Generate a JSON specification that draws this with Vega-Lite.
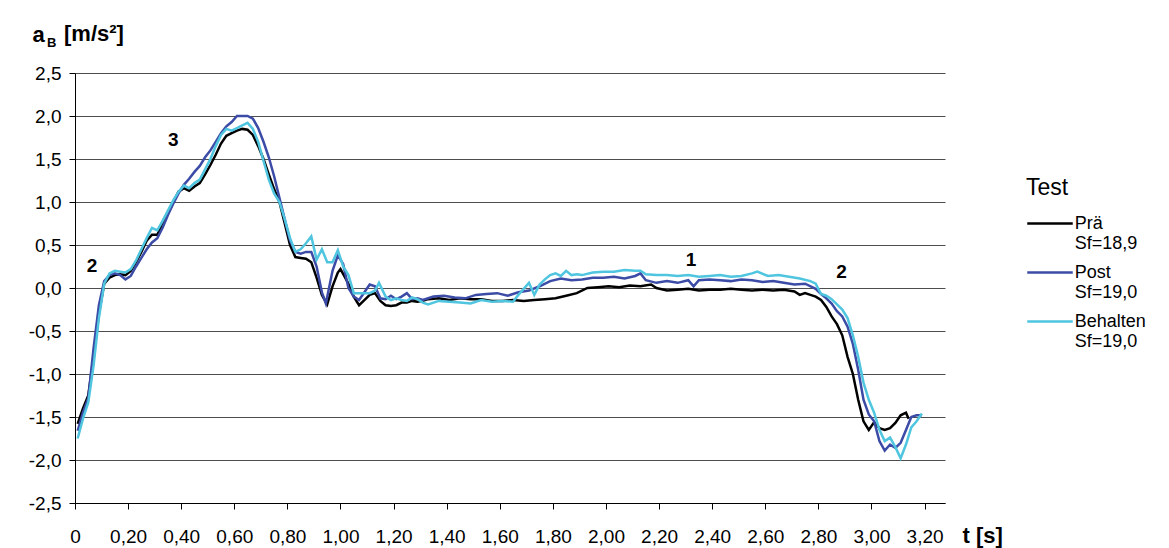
{
  "$schema": "https://vega.github.io/schema/vega-lite/v6.json",
  "width": 870,
  "height": 430,
  "autosize": {"type": "none"},
  "padding": {"left": 75, "top": 73, "right": 224, "bottom": 45},
  "background": "white",
  "config": {"font": "Liberation Sans", "view": {"stroke": null}},
  "datasets": {
    "series": [
      {"test":"Prä","t":0.01,"a":-1.58},{"test":"Prä","t":0.03,"a":-1.40},{"test":"Prä","t":0.05,"a":-1.25},{"test":"Prä","t":0.07,"a":-0.80},{"test":"Prä","t":0.09,"a":-0.30},
      {"test":"Prä","t":0.11,"a":0.05},{"test":"Prä","t":0.13,"a":0.12},{"test":"Prä","t":0.15,"a":0.15},{"test":"Prä","t":0.17,"a":0.16},{"test":"Prä","t":0.19,"a":0.15},
      {"test":"Prä","t":0.21,"a":0.20},{"test":"Prä","t":0.23,"a":0.30},{"test":"Prä","t":0.25,"a":0.42},{"test":"Prä","t":0.27,"a":0.55},{"test":"Prä","t":0.29,"a":0.62},
      {"test":"Prä","t":0.31,"a":0.62},{"test":"Prä","t":0.33,"a":0.75},{"test":"Prä","t":0.35,"a":0.88},{"test":"Prä","t":0.37,"a":1.00},{"test":"Prä","t":0.39,"a":1.12},
      {"test":"Prä","t":0.41,"a":1.16},{"test":"Prä","t":0.43,"a":1.13},{"test":"Prä","t":0.45,"a":1.18},{"test":"Prä","t":0.47,"a":1.22},{"test":"Prä","t":0.49,"a":1.32},
      {"test":"Prä","t":0.51,"a":1.43},{"test":"Prä","t":0.53,"a":1.55},{"test":"Prä","t":0.55,"a":1.68},{"test":"Prä","t":0.57,"a":1.77},{"test":"Prä","t":0.59,"a":1.80},
      {"test":"Prä","t":0.61,"a":1.83},{"test":"Prä","t":0.63,"a":1.85},{"test":"Prä","t":0.65,"a":1.84},{"test":"Prä","t":0.67,"a":1.78},{"test":"Prä","t":0.69,"a":1.65},
      {"test":"Prä","t":0.71,"a":1.50},{"test":"Prä","t":0.73,"a":1.32},{"test":"Prä","t":0.75,"a":1.15},{"test":"Prä","t":0.77,"a":1.00},{"test":"Prä","t":0.79,"a":0.75},
      {"test":"Prä","t":0.81,"a":0.50},{"test":"Prä","t":0.83,"a":0.36},{"test":"Prä","t":0.85,"a":0.35},{"test":"Prä","t":0.87,"a":0.34},{"test":"Prä","t":0.89,"a":0.30},
      {"test":"Prä","t":0.91,"a":0.12},{"test":"Prä","t":0.93,"a":-0.08},{"test":"Prä","t":0.95,"a":-0.19},{"test":"Prä","t":0.97,"a":0.02},{"test":"Prä","t":0.99,"a":0.18},
      {"test":"Prä","t":1.00,"a":0.22},{"test":"Prä","t":1.03,"a":0.05},{"test":"Prä","t":1.05,"a":-0.10},{"test":"Prä","t":1.07,"a":-0.20},{"test":"Prä","t":1.09,"a":-0.14},
      {"test":"Prä","t":1.11,"a":-0.08},{"test":"Prä","t":1.13,"a":-0.06},{"test":"Prä","t":1.15,"a":-0.15},{"test":"Prä","t":1.17,"a":-0.20},{"test":"Prä","t":1.19,"a":-0.21},
      {"test":"Prä","t":1.21,"a":-0.20},{"test":"Prä","t":1.23,"a":-0.17},{"test":"Prä","t":1.25,"a":-0.17},{"test":"Prä","t":1.27,"a":-0.15},{"test":"Prä","t":1.29,"a":-0.16},
      {"test":"Prä","t":1.31,"a":-0.15},{"test":"Prä","t":1.33,"a":-0.13},{"test":"Prä","t":1.37,"a":-0.12},{"test":"Prä","t":1.41,"a":-0.14},{"test":"Prä","t":1.45,"a":-0.12},
      {"test":"Prä","t":1.49,"a":-0.13},{"test":"Prä","t":1.53,"a":-0.13},{"test":"Prä","t":1.57,"a":-0.15},{"test":"Prä","t":1.61,"a":-0.15},{"test":"Prä","t":1.65,"a":-0.14},
      {"test":"Prä","t":1.69,"a":-0.15},{"test":"Prä","t":1.73,"a":-0.14},{"test":"Prä","t":1.77,"a":-0.13},{"test":"Prä","t":1.81,"a":-0.12},{"test":"Prä","t":1.85,"a":-0.09},
      {"test":"Prä","t":1.89,"a":-0.06},{"test":"Prä","t":1.93,"a":0.00},{"test":"Prä","t":1.97,"a":0.01},{"test":"Prä","t":2.01,"a":0.02},{"test":"Prä","t":2.05,"a":0.01},
      {"test":"Prä","t":2.09,"a":0.03},{"test":"Prä","t":2.13,"a":0.02},{"test":"Prä","t":2.17,"a":0.04},{"test":"Prä","t":2.19,"a":0.00},{"test":"Prä","t":2.23,"a":-0.03},
      {"test":"Prä","t":2.27,"a":-0.02},{"test":"Prä","t":2.31,"a":-0.01},{"test":"Prä","t":2.35,"a":-0.03},{"test":"Prä","t":2.39,"a":-0.02},{"test":"Prä","t":2.43,"a":-0.02},
      {"test":"Prä","t":2.47,"a":-0.01},{"test":"Prä","t":2.51,"a":-0.02},{"test":"Prä","t":2.55,"a":-0.03},{"test":"Prä","t":2.59,"a":-0.02},{"test":"Prä","t":2.63,"a":-0.03},
      {"test":"Prä","t":2.67,"a":-0.02},{"test":"Prä","t":2.71,"a":-0.04},{"test":"Prä","t":2.73,"a":-0.08},{"test":"Prä","t":2.75,"a":-0.06},{"test":"Prä","t":2.77,"a":-0.08},
      {"test":"Prä","t":2.79,"a":-0.10},{"test":"Prä","t":2.81,"a":-0.14},{"test":"Prä","t":2.83,"a":-0.22},{"test":"Prä","t":2.85,"a":-0.33},{"test":"Prä","t":2.87,"a":-0.42},
      {"test":"Prä","t":2.89,"a":-0.55},{"test":"Prä","t":2.91,"a":-0.80},{"test":"Prä","t":2.93,"a":-1.00},{"test":"Prä","t":2.95,"a":-1.30},{"test":"Prä","t":2.97,"a":-1.55},
      {"test":"Prä","t":2.99,"a":-1.65},{"test":"Prä","t":3.01,"a":-1.56},{"test":"Prä","t":3.03,"a":-1.63},{"test":"Prä","t":3.05,"a":-1.65},{"test":"Prä","t":3.07,"a":-1.63},
      {"test":"Prä","t":3.09,"a":-1.57},{"test":"Prä","t":3.11,"a":-1.48},{"test":"Prä","t":3.13,"a":-1.45},{"test":"Prä","t":3.14,"a":-1.52},

      {"test":"Post","t":0.01,"a":-1.66},{"test":"Post","t":0.03,"a":-1.45},{"test":"Post","t":0.05,"a":-1.28},{"test":"Post","t":0.07,"a":-0.70},{"test":"Post","t":0.09,"a":-0.20},
      {"test":"Post","t":0.11,"a":0.08},{"test":"Post","t":0.13,"a":0.15},{"test":"Post","t":0.15,"a":0.17},{"test":"Post","t":0.17,"a":0.15},{"test":"Post","t":0.19,"a":0.10},
      {"test":"Post","t":0.21,"a":0.14},{"test":"Post","t":0.23,"a":0.25},{"test":"Post","t":0.25,"a":0.35},{"test":"Post","t":0.27,"a":0.45},{"test":"Post","t":0.29,"a":0.53},
      {"test":"Post","t":0.31,"a":0.58},{"test":"Post","t":0.33,"a":0.70},{"test":"Post","t":0.35,"a":0.85},{"test":"Post","t":0.37,"a":0.98},{"test":"Post","t":0.39,"a":1.10},
      {"test":"Post","t":0.41,"a":1.20},{"test":"Post","t":0.43,"a":1.27},{"test":"Post","t":0.45,"a":1.35},{"test":"Post","t":0.47,"a":1.42},{"test":"Post","t":0.49,"a":1.52},
      {"test":"Post","t":0.51,"a":1.60},{"test":"Post","t":0.53,"a":1.70},{"test":"Post","t":0.55,"a":1.80},{"test":"Post","t":0.57,"a":1.88},{"test":"Post","t":0.59,"a":1.93},
      {"test":"Post","t":0.61,"a":2.00},{"test":"Post","t":0.63,"a":2.00},{"test":"Post","t":0.65,"a":2.00},{"test":"Post","t":0.67,"a":1.97},{"test":"Post","t":0.69,"a":1.86},
      {"test":"Post","t":0.71,"a":1.70},{"test":"Post","t":0.73,"a":1.52},{"test":"Post","t":0.75,"a":1.30},{"test":"Post","t":0.77,"a":1.05},{"test":"Post","t":0.79,"a":0.80},
      {"test":"Post","t":0.81,"a":0.55},{"test":"Post","t":0.83,"a":0.42},{"test":"Post","t":0.85,"a":0.40},{"test":"Post","t":0.87,"a":0.42},{"test":"Post","t":0.89,"a":0.42},
      {"test":"Post","t":0.91,"a":0.25},{"test":"Post","t":0.93,"a":-0.05},{"test":"Post","t":0.945,"a":-0.18},{"test":"Post","t":0.97,"a":0.20},{"test":"Post","t":0.99,"a":0.38},
      {"test":"Post","t":1.01,"a":0.28},{"test":"Post","t":1.03,"a":0.00},{"test":"Post","t":1.05,"a":-0.10},{"test":"Post","t":1.07,"a":-0.14},{"test":"Post","t":1.09,"a":-0.05},
      {"test":"Post","t":1.11,"a":0.04},{"test":"Post","t":1.13,"a":0.02},{"test":"Post","t":1.15,"a":-0.12},{"test":"Post","t":1.17,"a":-0.13},{"test":"Post","t":1.19,"a":-0.09},
      {"test":"Post","t":1.21,"a":-0.13},{"test":"Post","t":1.23,"a":-0.10},{"test":"Post","t":1.25,"a":-0.06},{"test":"Post","t":1.27,"a":-0.13},{"test":"Post","t":1.29,"a":-0.12},
      {"test":"Post","t":1.31,"a":-0.14},{"test":"Post","t":1.35,"a":-0.10},{"test":"Post","t":1.39,"a":-0.09},{"test":"Post","t":1.43,"a":-0.11},{"test":"Post","t":1.47,"a":-0.12},
      {"test":"Post","t":1.51,"a":-0.08},{"test":"Post","t":1.55,"a":-0.07},{"test":"Post","t":1.59,"a":-0.06},{"test":"Post","t":1.63,"a":-0.09},{"test":"Post","t":1.67,"a":-0.05},
      {"test":"Post","t":1.71,"a":-0.03},{"test":"Post","t":1.75,"a":0.02},{"test":"Post","t":1.79,"a":0.08},{"test":"Post","t":1.83,"a":0.11},{"test":"Post","t":1.87,"a":0.09},
      {"test":"Post","t":1.91,"a":0.10},{"test":"Post","t":1.95,"a":0.12},{"test":"Post","t":1.99,"a":0.12},{"test":"Post","t":2.03,"a":0.13},{"test":"Post","t":2.07,"a":0.11},
      {"test":"Post","t":2.11,"a":0.14},{"test":"Post","t":2.13,"a":0.17},{"test":"Post","t":2.15,"a":0.09},{"test":"Post","t":2.19,"a":0.06},{"test":"Post","t":2.23,"a":0.08},
      {"test":"Post","t":2.27,"a":0.06},{"test":"Post","t":2.31,"a":0.09},{"test":"Post","t":2.33,"a":0.02},{"test":"Post","t":2.35,"a":0.09},{"test":"Post","t":2.39,"a":0.10},
      {"test":"Post","t":2.43,"a":0.09},{"test":"Post","t":2.47,"a":0.08},{"test":"Post","t":2.51,"a":0.10},{"test":"Post","t":2.55,"a":0.09},{"test":"Post","t":2.59,"a":0.07},
      {"test":"Post","t":2.63,"a":0.08},{"test":"Post","t":2.67,"a":0.06},{"test":"Post","t":2.71,"a":0.04},{"test":"Post","t":2.75,"a":0.05},{"test":"Post","t":2.79,"a":-0.01},
      {"test":"Post","t":2.81,"a":-0.07},{"test":"Post","t":2.83,"a":-0.12},{"test":"Post","t":2.85,"a":-0.18},{"test":"Post","t":2.87,"a":-0.27},{"test":"Post","t":2.89,"a":-0.33},
      {"test":"Post","t":2.91,"a":-0.45},{"test":"Post","t":2.93,"a":-0.65},{"test":"Post","t":2.95,"a":-0.95},{"test":"Post","t":2.97,"a":-1.30},{"test":"Post","t":2.99,"a":-1.47},
      {"test":"Post","t":3.01,"a":-1.55},{"test":"Post","t":3.03,"a":-1.78},{"test":"Post","t":3.05,"a":-1.89},{"test":"Post","t":3.07,"a":-1.82},{"test":"Post","t":3.09,"a":-1.86},
      {"test":"Post","t":3.11,"a":-1.80},{"test":"Post","t":3.13,"a":-1.65},{"test":"Post","t":3.15,"a":-1.50},{"test":"Post","t":3.17,"a":-1.48},{"test":"Post","t":3.19,"a":-1.48},

      {"test":"Behalten","t":0.01,"a":-1.75},{"test":"Behalten","t":0.03,"a":-1.52},{"test":"Behalten","t":0.05,"a":-1.33},{"test":"Behalten","t":0.07,"a":-0.90},{"test":"Behalten","t":0.09,"a":-0.35},
      {"test":"Behalten","t":0.11,"a":0.05},{"test":"Behalten","t":0.13,"a":0.17},{"test":"Behalten","t":0.15,"a":0.20},{"test":"Behalten","t":0.17,"a":0.19},{"test":"Behalten","t":0.19,"a":0.18},
      {"test":"Behalten","t":0.21,"a":0.22},{"test":"Behalten","t":0.23,"a":0.32},{"test":"Behalten","t":0.25,"a":0.45},{"test":"Behalten","t":0.27,"a":0.58},{"test":"Behalten","t":0.29,"a":0.70},
      {"test":"Behalten","t":0.31,"a":0.67},{"test":"Behalten","t":0.33,"a":0.78},{"test":"Behalten","t":0.35,"a":0.90},{"test":"Behalten","t":0.37,"a":1.02},{"test":"Behalten","t":0.39,"a":1.12},
      {"test":"Behalten","t":0.41,"a":1.19},{"test":"Behalten","t":0.43,"a":1.16},{"test":"Behalten","t":0.45,"a":1.22},{"test":"Behalten","t":0.47,"a":1.26},{"test":"Behalten","t":0.49,"a":1.38},
      {"test":"Behalten","t":0.51,"a":1.50},{"test":"Behalten","t":0.53,"a":1.65},{"test":"Behalten","t":0.55,"a":1.78},{"test":"Behalten","t":0.57,"a":1.85},{"test":"Behalten","t":0.59,"a":1.83},
      {"test":"Behalten","t":0.61,"a":1.86},{"test":"Behalten","t":0.63,"a":1.89},{"test":"Behalten","t":0.65,"a":1.92},{"test":"Behalten","t":0.67,"a":1.85},{"test":"Behalten","t":0.69,"a":1.70},
      {"test":"Behalten","t":0.71,"a":1.48},{"test":"Behalten","t":0.73,"a":1.26},{"test":"Behalten","t":0.75,"a":1.10},{"test":"Behalten","t":0.77,"a":1.00},{"test":"Behalten","t":0.79,"a":0.80},
      {"test":"Behalten","t":0.81,"a":0.58},{"test":"Behalten","t":0.83,"a":0.42},{"test":"Behalten","t":0.85,"a":0.45},{"test":"Behalten","t":0.87,"a":0.52},{"test":"Behalten","t":0.89,"a":0.60},
      {"test":"Behalten","t":0.91,"a":0.33},{"test":"Behalten","t":0.93,"a":0.45},{"test":"Behalten","t":0.95,"a":0.30},{"test":"Behalten","t":0.97,"a":0.30},{"test":"Behalten","t":0.99,"a":0.44},
      {"test":"Behalten","t":1.01,"a":0.25},{"test":"Behalten","t":1.03,"a":0.15},{"test":"Behalten","t":1.05,"a":-0.06},{"test":"Behalten","t":1.07,"a":-0.06},{"test":"Behalten","t":1.09,"a":-0.06},
      {"test":"Behalten","t":1.11,"a":-0.06},{"test":"Behalten","t":1.13,"a":-0.03},{"test":"Behalten","t":1.145,"a":0.06},{"test":"Behalten","t":1.17,"a":-0.10},{"test":"Behalten","t":1.19,"a":-0.14},
      {"test":"Behalten","t":1.21,"a":-0.12},{"test":"Behalten","t":1.23,"a":-0.14},{"test":"Behalten","t":1.25,"a":-0.15},{"test":"Behalten","t":1.27,"a":-0.11},{"test":"Behalten","t":1.29,"a":-0.13},
      {"test":"Behalten","t":1.31,"a":-0.17},{"test":"Behalten","t":1.33,"a":-0.19},{"test":"Behalten","t":1.37,"a":-0.15},{"test":"Behalten","t":1.41,"a":-0.16},{"test":"Behalten","t":1.45,"a":-0.17},
      {"test":"Behalten","t":1.49,"a":-0.18},{"test":"Behalten","t":1.53,"a":-0.14},{"test":"Behalten","t":1.57,"a":-0.16},{"test":"Behalten","t":1.61,"a":-0.15},{"test":"Behalten","t":1.65,"a":-0.16},
      {"test":"Behalten","t":1.67,"a":-0.08},{"test":"Behalten","t":1.71,"a":0.06},{"test":"Behalten","t":1.73,"a":-0.08},{"test":"Behalten","t":1.75,"a":0.04},{"test":"Behalten","t":1.77,"a":0.10},
      {"test":"Behalten","t":1.79,"a":0.15},{"test":"Behalten","t":1.81,"a":0.17},{"test":"Behalten","t":1.83,"a":0.14},{"test":"Behalten","t":1.85,"a":0.20},{"test":"Behalten","t":1.87,"a":0.15},
      {"test":"Behalten","t":1.89,"a":0.16},{"test":"Behalten","t":1.91,"a":0.15},{"test":"Behalten","t":1.95,"a":0.18},{"test":"Behalten","t":1.99,"a":0.19},{"test":"Behalten","t":2.03,"a":0.19},
      {"test":"Behalten","t":2.07,"a":0.21},{"test":"Behalten","t":2.11,"a":0.20},{"test":"Behalten","t":2.13,"a":0.20},{"test":"Behalten","t":2.15,"a":0.16},{"test":"Behalten","t":2.19,"a":0.15},
      {"test":"Behalten","t":2.23,"a":0.15},{"test":"Behalten","t":2.27,"a":0.14},{"test":"Behalten","t":2.31,"a":0.15},{"test":"Behalten","t":2.35,"a":0.13},{"test":"Behalten","t":2.39,"a":0.14},
      {"test":"Behalten","t":2.43,"a":0.15},{"test":"Behalten","t":2.47,"a":0.13},{"test":"Behalten","t":2.51,"a":0.14},{"test":"Behalten","t":2.55,"a":0.17},{"test":"Behalten","t":2.57,"a":0.19},
      {"test":"Behalten","t":2.61,"a":0.14},{"test":"Behalten","t":2.65,"a":0.15},{"test":"Behalten","t":2.69,"a":0.13},{"test":"Behalten","t":2.73,"a":0.11},{"test":"Behalten","t":2.77,"a":0.08},
      {"test":"Behalten","t":2.79,"a":0.05},{"test":"Behalten","t":2.81,"a":-0.07},{"test":"Behalten","t":2.83,"a":-0.09},{"test":"Behalten","t":2.85,"a":-0.13},{"test":"Behalten","t":2.87,"a":-0.19},
      {"test":"Behalten","t":2.89,"a":-0.25},{"test":"Behalten","t":2.91,"a":-0.35},{"test":"Behalten","t":2.93,"a":-0.55},{"test":"Behalten","t":2.95,"a":-0.80},{"test":"Behalten","t":2.97,"a":-1.10},
      {"test":"Behalten","t":2.99,"a":-1.30},{"test":"Behalten","t":3.01,"a":-1.45},{"test":"Behalten","t":3.03,"a":-1.65},{"test":"Behalten","t":3.05,"a":-1.78},{"test":"Behalten","t":3.07,"a":-1.74},
      {"test":"Behalten","t":3.09,"a":-1.85},{"test":"Behalten","t":3.11,"a":-1.98},{"test":"Behalten","t":3.13,"a":-1.82},{"test":"Behalten","t":3.15,"a":-1.62},{"test":"Behalten","t":3.17,"a":-1.55},
      {"test":"Behalten","t":3.19,"a":-1.46}
    ],
    "notes": [
      {"t": 0.37, "a": 1.72, "label": "3"},
      {"t": 0.064, "a": 0.256, "label": "2"},
      {"t": 2.32, "a": 0.33, "label": "1"},
      {"t": 2.887, "a": 0.19, "label": "2"}
    ],
    "sub": [
      {"t": -0.1057, "a": 2.802, "label": "B"}
    ],
    "unit": [
      {"t": -0.0414, "a": 2.872, "label": "[m/s²]"}
    ]
  },
  "layer": [
    {
      "data": {"name": "series"},
      "mark": {"type": "line", "strokeWidth": 2.5},
      "encoding": {
        "x": {
          "field": "t", "type": "quantitative",
          "scale": {"domain": [0, 3.277], "nice": false, "zero": false},
          "axis": {
            "values": [0, 0.2, 0.4, 0.6, 0.8, 1, 1.2, 1.4, 1.6, 1.8, 2, 2.2, 2.4, 2.6, 2.8, 3, 3.2],
            "labelExpr": "datum.value == 0 ? '0' : replace(format(datum.value, '.2f'), '.', ',')",
            "labelFontSize": 19, "labelColor": "black", "labelPadding": 18,
            "labelFlush": false, "labelOverlap": false,
            "tickColor": "black", "tickSize": 6, "domainColor": "black", "grid": false,
            "title": "t [s]", "titleFontSize": 22, "titleFontWeight": "bold", "titleColor": "black",
            "titleX": 887, "titleY": 39, "titleAlign": "left", "titleBaseline": "alphabetic"
          }
        },
        "y": {
          "field": "a", "type": "quantitative",
          "scale": {"domain": [-2.5, 2.5], "nice": false},
          "axis": {
            "values": [-2.5, -2, -1.5, -1, -0.5, 0, 0.5, 1, 1.5, 2, 2.5],
            "labelExpr": "replace(replace(format(datum.value, '.1f'), '.', ','), '\u2212', '-')",
            "labelFontSize": 19, "labelColor": "black", "labelPadding": 8,
            "tickColor": "black", "tickSize": 6, "domainColor": "black",
            "grid": true, "gridColor": "#4d4d4d", "gridWidth": 1,
            "title": "a", "titleAngle": 0, "titleAlign": "left", "titleBaseline": "alphabetic",
            "titleX": -43, "titleY": -32, "titleFontSize": 22, "titleFontWeight": "bold", "titleColor": "black"
          }
        },
        "color": {
          "field": "test", "type": "nominal",
          "scale": {"domain": ["Prä", "Post", "Behalten"], "range": ["#000000", "#3B4BA6", "#4FC5DF"]},
          "legend": {
            "orient": "none", "legendX": 951, "legendY": 104,
            "title": "Test", "titleFontSize": 23, "titleFontWeight": "normal", "titleColor": "black", "titlePadding": 6,
            "labelFontSize": 18, "labelColor": "black", "labelOffset": 13.75, "labelLimit": 200, "labelBaseline": "middle",
            "labelExpr": "datum.label == 'Prä' ? ['Prä', 'Sf=18,9'] : datum.label == 'Post' ? ['Post', 'Sf=19,0'] : ['Behalten', 'Sf=19,0']",
            "symbolType": "M-1,0H1.8", "symbolSize": 1056, "symbolStrokeWidth": 2.5,
            "padding": 0, "rowPadding": 2
          }
        }
      }
    },
    {
      "data": {"name": "notes"},
      "mark": {"type": "text", "fontWeight": "bold", "fontSize": 19, "color": "black", "align": "center", "baseline": "middle"},
      "encoding": {
        "x": {"field": "t", "type": "quantitative"},
        "y": {"field": "a", "type": "quantitative"},
        "text": {"field": "label"}
      }
    },
    {
      "data": {"name": "sub"},
      "mark": {"type": "text", "fontWeight": "bold", "fontSize": 13, "color": "black", "align": "left", "baseline": "alphabetic"},
      "encoding": {
        "x": {"field": "t", "type": "quantitative"},
        "y": {"field": "a", "type": "quantitative"},
        "text": {"field": "label"}
      }
    },
    {
      "data": {"name": "unit"},
      "mark": {"type": "text", "fontWeight": "bold", "fontSize": 22, "color": "black", "align": "left", "baseline": "alphabetic"},
      "encoding": {
        "x": {"field": "t", "type": "quantitative"},
        "y": {"field": "a", "type": "quantitative"},
        "text": {"field": "label"}
      }
    }
  ]
}
